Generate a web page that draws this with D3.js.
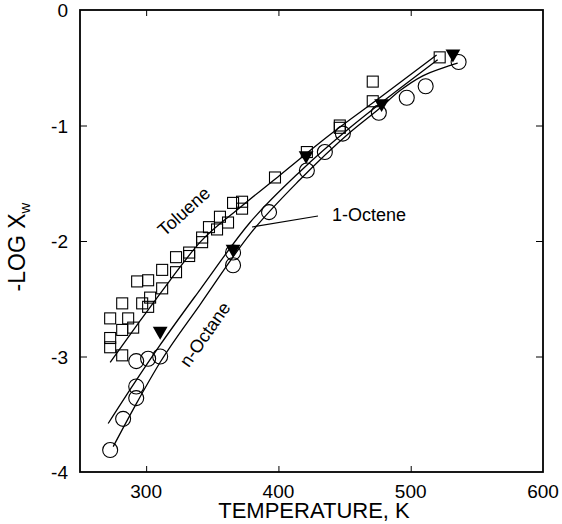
<!DOCTYPE html>
<html>
<head>
<meta charset="utf-8">
<script src="https://cdn.jsdelivr.net/npm/d3@7"></script>
<style>
  body { margin: 0; background: #fff; }
  text { font-family: "Liberation Sans", Arial, Helvetica, sans-serif; fill: #000; }
</style>
</head>
<body>
<div id="chart"></div>
<script>
// toluene data points [T (K), -log xw]
var toluenePts = [
  [272.8, -2.67], [272.8, -2.84], [272.8, -2.92], [281.9, -2.54], [281.9, -2.77],
  [281.9, -2.99], [286.4, -2.67], [290.2, -2.75], [293.2, -2.35], [297.0, -2.54],
  [301.5, -2.57], [301.5, -2.34], [303.0, -2.49], [312.1, -2.25], [312.1, -2.41],
  [322.6, -2.14], [322.6, -2.27], [332.5, -2.10], [332.5, -2.13], [342.3, -1.97],
  [342.3, -2.01], [347.5, -1.88], [353.6, -1.90], [355.8, -1.79], [361.9, -1.84],
  [365.7, -1.67], [372.5, -1.66], [372.5, -1.72], [397.4, -1.45], [421.5, -1.23],
  [446.4, -1.00], [446.4, -1.02], [471.3, -0.62], [471.3, -0.79], [521.9, -0.41]
];

// n-octane data points
var octanePts = [
  [272.8, -3.81], [282.6, -3.54], [292.5, -3.36], [292.5, -3.26], [292.5, -3.04],
  [301.5, -3.02], [310.6, -3.00], [365.7, -2.21], [365.7, -2.10], [392.9, -1.75],
  [421.5, -1.39], [435.1, -1.23], [448.7, -1.07], [475.9, -0.89], [497.0, -0.76],
  [511.3, -0.66], [536.2, -0.45]
];

// 1-octene data points
var octenePts = [
  [310.6, -2.78], [365.7, -2.07], [420.9, -1.26], [478.0, -0.81], [531.9, -0.38]
];

// fitted curves
var tolueneFit = [
  [272.8, -3.05], [295.5, -2.69], [318.1, -2.34], [340.8, -2.01], [371.0, -1.71],
  [401.1, -1.43], [438.9, -1.08], [476.6, -0.76], [519.6, -0.39]
];
var octeneFit = [
  [271.3, -3.58], [291.7, -3.22], [310.6, -2.90], [340.8, -2.42], [378.5, -1.84],
  [416.2, -1.40], [454.0, -1.02], [491.7, -0.68], [520.4, -0.43]
];
var octaneFit = [
  [275.1, -3.78], [292.5, -3.41], [310.6, -3.05], [340.8, -2.55], [378.5, -1.94],
  [416.2, -1.47], [454.0, -1.06], [476.6, -0.85], [491.7, -0.70], [509.1, -0.57],
  [527.2, -0.49], [535.5, -0.46]
];

var xTicks = [300, 400, 500, 600];
var yTicks = [0, -1, -2, -3, -4];

var W = 562, H = 524;
var pLeft = 80, pRight = 543, pTop = 10, pBottom = 472;

var svg = d3.select("#chart").append("svg")
    .attr("width", W)
    .attr("height", H);

var x = d3.scaleLinear().domain([250, 600]).range([pLeft, pRight]);
var y = d3.scaleLinear().domain([-4, 0]).range([pBottom, pTop]);

// inner ticks on all four sides
svg.append("g")
    .attr("transform", "translate(0," + pBottom + ")")
    .call(d3.axisTop(x).tickValues([300, 400, 500]).tickSize(6).tickFormat(""))
    .call(function(g) { g.select(".domain").remove(); });
svg.append("g")
    .attr("transform", "translate(0," + pTop + ")")
    .call(d3.axisBottom(x).tickValues([300, 400, 500]).tickSize(6).tickFormat(""))
    .call(function(g) { g.select(".domain").remove(); });
svg.append("g")
    .attr("transform", "translate(" + pLeft + ",0)")
    .call(d3.axisRight(y).tickValues([-1, -2, -3]).tickSize(7).tickFormat(""))
    .call(function(g) { g.select(".domain").remove(); });
svg.append("g")
    .attr("transform", "translate(" + pRight + ",0)")
    .call(d3.axisLeft(y).tickValues([-1, -2, -3]).tickSize(7).tickFormat(""))
    .call(function(g) { g.select(".domain").remove(); });
svg.selectAll(".tick line").attr("stroke", "#000").attr("stroke-width", 1);

// frame
svg.append("rect")
    .attr("x", pLeft).attr("y", pTop)
    .attr("width", pRight - pLeft).attr("height", pBottom - pTop)
    .attr("fill", "none").attr("stroke", "#000").attr("stroke-width", 1.8);

// tick labels
svg.selectAll(".xlab").data(xTicks).enter().append("text")
    .attr("x", function(d) { return x(d); })
    .attr("y", 498)
    .attr("text-anchor", "middle")
    .style("font-size", "19px")
    .text(function(d) { return d; });

svg.selectAll(".ylab").data(yTicks).enter().append("text")
    .attr("x", pLeft - 12)
    .attr("y", function(d) { return y(d) + 7; })
    .attr("text-anchor", "end")
    .style("font-size", "19px")
    .text(function(d) { return d; });

// axis titles
svg.append("text")
    .attr("x", 314).attr("y", 518)
    .attr("text-anchor", "middle")
    .style("font-size", "22px")
    .text("TEMPERATURE, K");

var yt = svg.append("text")
    .attr("transform", "translate(25,247) rotate(-90)")
    .attr("text-anchor", "middle")
    .style("font-size", "23px");
yt.append("tspan").text("-LOG X");
yt.append("tspan").attr("dy", 5).style("font-size", "15px").text("w");

// fit lines
var line = d3.line()
    .curve(d3.curveMonotoneX)
    .x(function(d) { return x(d[0]); })
    .y(function(d) { return y(d[1]); });

[tolueneFit, octeneFit, octaneFit].forEach(function(f) {
    svg.append("path")
        .datum(f)
        .attr("d", line)
        .attr("fill", "none")
        .attr("stroke", "#000")
        .attr("stroke-width", 1.3);
});

// markers
svg.selectAll(".sq").data(toluenePts).enter().append("rect")
    .attr("x", function(d) { return x(d[0]) - 5.5; })
    .attr("y", function(d) { return y(d[1]) - 5.5; })
    .attr("width", 11).attr("height", 11)
    .attr("fill", "none").attr("stroke", "#000").attr("stroke-width", 1.1);

svg.selectAll(".ci").data(octanePts).enter().append("circle")
    .attr("cx", function(d) { return x(d[0]); })
    .attr("cy", function(d) { return y(d[1]); })
    .attr("r", 7.5)
    .attr("fill", "none").attr("stroke", "#000").attr("stroke-width", 1.1);

svg.selectAll(".tri").data(octenePts).enter().append("path")
    .attr("d", d3.symbol().type(d3.symbolTriangle).size(95))
    .attr("transform", function(d) { return "translate(" + x(d[0]) + "," + y(d[1]) + ") rotate(180)"; })
    .attr("fill", "#000");

// series labels
svg.append("text")
    .attr("transform", "translate(188,216) rotate(-42)")
    .attr("text-anchor", "middle")
    .style("font-size", "18px")
    .text("Toluene");

svg.append("text")
    .attr("transform", "translate(210,338) rotate(-55)")
    .attr("text-anchor", "middle")
    .style("font-size", "18px")
    .text("n-Octane");

svg.append("text")
    .attr("x", 332).attr("y", 221)
    .style("font-size", "18px")
    .text("1-Octene");

svg.append("line")
    .attr("x1", 318).attr("y1", 216)
    .attr("x2", 252).attr("y2", 227)
    .attr("stroke", "#000").attr("stroke-width", 1.1);
</script>
</body>
</html>
